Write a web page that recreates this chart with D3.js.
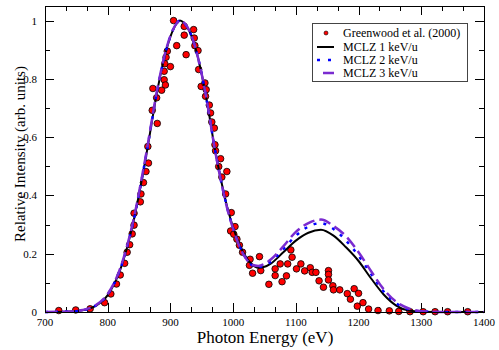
<!DOCTYPE html>
<html>
<head>
<meta charset="utf-8">
<title>Photon Energy spectrum</title>
<style>
    body { margin: 0; background: #fff; }
</style>
</head>
<body>
<svg width="499" height="350" font-family="'Liberation Serif', 'Times New Roman', 'DejaVu Serif', serif"></svg>
<script src="https://cdn.jsdelivr.net/npm/d3@7"></script>
<script>
// Greenwood et al. (2000) measured points [energy eV, relative intensity]
const expEnergy = [722, 749, 772, 795, 805, 814, 820, 827, 831, 835, 839, 842, 842, 852, 853, 857, 861, 865, 864, 871,
    872, 878, 879, 886, 890, 890, 891, 892, 893, 895, 900, 905, 910, 922, 922, 925, 937, 938, 939, 944,
    945, 949, 955, 957, 956, 962, 964, 966, 970, 971, 972, 977, 980, 982, 988, 990, 997, 1003, 996, 1001,
    1006, 1010, 1015, 1027, 1026, 1031, 1042, 1044, 1057, 1067, 1067, 1075, 1078, 1085, 1087, 1092, 1094, 1101, 1108, 1114,
    1123, 1126, 1132, 1137, 1144, 1152, 1152, 1152, 1159, 1160, 1170, 1182, 1187, 1193, 1200, 1198, 1207, 1216, 1231, 1249,
    1264, 1282, 1303, 1322, 1342, 1374];
const expIntensity = [0.005, 0.007, 0.011, 0.032, 0.062, 0.096, 0.127, 0.167, 0.205, 0.231, 0.268, 0.298, 0.339, 0.378, 0.405, 0.444, 0.482, 0.511, 0.568, 0.692,
    0.767, 0.735, 0.647, 0.761, 0.826, 0.797, 0.852, 0.779, 0.874, 0.895, 0.842, 1.0, 0.914, 0.98, 0.95, 0.883, 0.969, 0.94, 0.914, 0.897,
    0.832, 0.774, 0.786, 0.763, 0.74, 0.71, 0.683, 0.652, 0.631, 0.574, 0.553, 0.499, 0.526, 0.463, 0.405, 0.482, 0.341, 0.293, 0.278, 0.267,
    0.25, 0.229, 0.205, 0.181, 0.16, 0.133, 0.19, 0.142, 0.095, 0.148, 0.125, 0.165, 0.104, 0.124, 0.165, 0.213, 0.188, 0.148, 0.165, 0.141,
    0.152, 0.136, 0.136, 0.107, 0.085, 0.142, 0.129, 0.11, 0.09, 0.076, 0.076, 0.063, 0.044, 0.08, 0.064, 0.02, 0.032, 0.01, 0.005, 0.004,
    0.002, 0.001, 0.001, 0.001, 0.001, 0.001];

// MCLZ model curves, sampled on a common energy grid
const modelEnergy = [700, 740, 760, 780, 800, 820, 840, 860, 880, 890, 900, 910, 915, 920, 930, 940, 950, 960, 970, 980,
    990, 1000, 1010, 1020, 1030, 1040, 1050, 1060, 1080, 1100, 1120, 1140, 1160, 1180, 1200, 1220, 1240, 1260, 1280, 1300,
    1340, 1400];
const mclz1 = [0, 0.002, 0.006, 0.02, 0.058, 0.145, 0.30, 0.52, 0.77, 0.87, 0.945, 0.99, 1.0, 0.995, 0.965, 0.905, 0.815, 0.70, 0.57, 0.46,
    0.365, 0.29, 0.232, 0.19, 0.163, 0.152, 0.155, 0.166, 0.205, 0.245, 0.272, 0.282, 0.262, 0.222, 0.175, 0.115, 0.06, 0.022, 0.005, 0.001,
    0, 0];
const mclz2 = [0, 0.002, 0.006, 0.021, 0.06, 0.147, 0.302, 0.523, 0.772, 0.872, 0.946, 0.99, 1.0, 0.995, 0.965, 0.905, 0.815, 0.70, 0.57, 0.458,
    0.362, 0.287, 0.228, 0.186, 0.16, 0.155, 0.16, 0.172, 0.215, 0.262, 0.293, 0.305, 0.285, 0.245, 0.193, 0.13, 0.07, 0.03, 0.009, 0.002,
    0, 0];
const mclz3 = [0, 0.002, 0.007, 0.022, 0.062, 0.15, 0.306, 0.527, 0.776, 0.875, 0.948, 0.991, 1.0, 0.996, 0.966, 0.906, 0.815, 0.70, 0.568, 0.456,
    0.36, 0.285, 0.226, 0.185, 0.162, 0.158, 0.165, 0.18, 0.225, 0.275, 0.305, 0.317, 0.295, 0.26, 0.205, 0.14, 0.078, 0.035, 0.012, 0.003,
    0, 0];

const xTicks = [700, 800, 900, 1000, 1100, 1200, 1300, 1400];
const yTicks = [0, 0.2, 0.4, 0.6, 0.8, 1];

const legendLabels = ["Greenwood et al. (2000)", "MCLZ 1 keV/u", "MCLZ 2 keV/u", "MCLZ 3 keV/u"];

const svg = d3.select("svg");
const plotLeft = 45, plotRight = 484, plotTop = 6, plotBottom = 312;

const x = d3.scaleLinear().domain([700, 1400]).range([plotLeft, plotRight]);
const y = d3.scaleLinear().domain([0, 1.05]).range([plotBottom, plotTop]);

// minor ticks: 3 per major on x, 2 per major on y
const xMinor = d3.range(700, 1400.1, 100 / 3).filter(v => !xTicks.some(t => Math.abs(t - v) < 1));
const yMinor = d3.range(0, 1.05, 0.1).filter(v => !yTicks.some(t => Math.abs(t - v) < 1e-6));

const axes = svg.append("g").attr("stroke", "#000").attr("stroke-width", 1);
function tickLines(vals, len, side) {
    vals.forEach(v => {
        if (side === "x") {
            const px = Math.round(x(v)) + 0.5;
            axes.append("line").attr("x1", px).attr("x2", px).attr("y1", plotBottom).attr("y2", plotBottom - len);
            axes.append("line").attr("x1", px).attr("x2", px).attr("y1", plotTop).attr("y2", plotTop + len);
        } else {
            const py = Math.round(y(v)) + 0.5;
            axes.append("line").attr("y1", py).attr("y2", py).attr("x1", plotLeft).attr("x2", plotLeft + len);
            axes.append("line").attr("y1", py).attr("y2", py).attr("x1", plotRight).attr("x2", plotRight - len);
        }
    });
}
tickLines(xTicks, 9, "x");
tickLines(xMinor, 5, "x");
tickLines(yTicks, 9, "y");
tickLines(yMinor, 5, "y");

svg.append("g").selectAll("text")
    .data(xTicks)
    .join("text")
    .attr("x", d => x(d))
    .attr("y", 326)
    .attr("text-anchor", "middle")
    .attr("font-size", "11px")
    .text(d => d);

svg.append("g").selectAll("text")
    .data(yTicks)
    .join("text")
    .attr("x", 37)
    .attr("y", d => y(d) + 4)
    .attr("text-anchor", "end")
    .attr("font-size", "11px")
    .text(d => d);

svg.append("text")
    .attr("x", 265)
    .attr("y", 343)
    .attr("text-anchor", "middle")
    .attr("font-size", "17px")
    .text("Photon Energy (eV)");

svg.append("text")
    .attr("transform", "translate(25,154) rotate(-90)")
    .attr("text-anchor", "middle")
    .attr("font-size", "15px")
    .text("Relative Intensity (arb. units)");

// experimental points
const points = expEnergy.map((e, i) => ({ e: e, v: expIntensity[i] }));
svg.append("g").selectAll("circle")
    .data(points)
    .join("circle")
    .attr("cx", d => x(d.e))
    .attr("cy", d => y(d.v))
    .attr("r", 3.3)
    .attr("fill", "#ff0000")
    .attr("stroke", "#000")
    .attr("stroke-width", 0.8);

// model curves
const line = d3.line()
    .x(d => x(d.e))
    .y(d => y(d.v))
    .curve(d3.curveMonotoneX);

const series = [
    { values: mclz1, color: "#000000", width: 2, dash: null, legendDash: null },
    { values: mclz2, color: "#0000ff", width: 2.5, dash: "3,7", legendDash: "3,8" },
    { values: mclz3, color: "#7a2bd0", width: 2.5, dash: "12,5", legendDash: "0,6,14,6" }
];

series.forEach(s => {
    svg.append("path")
        .datum(modelEnergy.map((e, i) => ({ e: e, v: s.values[i] })))
        .attr("d", line)
        .attr("fill", "none")
        .attr("stroke", s.color)
        .attr("stroke-width", s.width)
        .attr("stroke-dasharray", s.dash);
});

// frame
svg.append("rect")
    .attr("x", plotLeft + 0.5).attr("y", plotTop + 0.5)
    .attr("width", plotRight - plotLeft).attr("height", plotBottom - plotTop)
    .attr("fill", "none")
    .attr("stroke", "#000")
    .attr("stroke-width", 1);

// legend
const legend = svg.append("g");
legend.append("rect")
    .attr("x", 312.5).attr("y", 23.5)
    .attr("width", 155).attr("height", 58)
    .attr("fill", "#fff")
    .attr("stroke", "#444")
    .attr("stroke-width", 1);

const rowY = [33, 47, 60, 73];
legend.append("circle")
    .attr("cx", 326).attr("cy", rowY[0])
    .attr("r", 2)
    .attr("fill", "#ff0000")
    .attr("stroke", "#000")
    .attr("stroke-width", 0.6);
series.forEach((s, i) => {
    legend.append("line")
        .attr("x1", 317).attr("x2", 334)
        .attr("y1", rowY[i + 1]).attr("y2", rowY[i + 1])
        .attr("stroke", s.color)
        .attr("stroke-width", s.width)
        .attr("stroke-dasharray", s.legendDash);
});
legend.selectAll("text")
    .data(legendLabels)
    .join("text")
    .attr("x", 343)
    .attr("y", (d, i) => rowY[i] + 4)
    .attr("font-size", "12px")
    .text(d => d);
</script>
</body>
</html>
